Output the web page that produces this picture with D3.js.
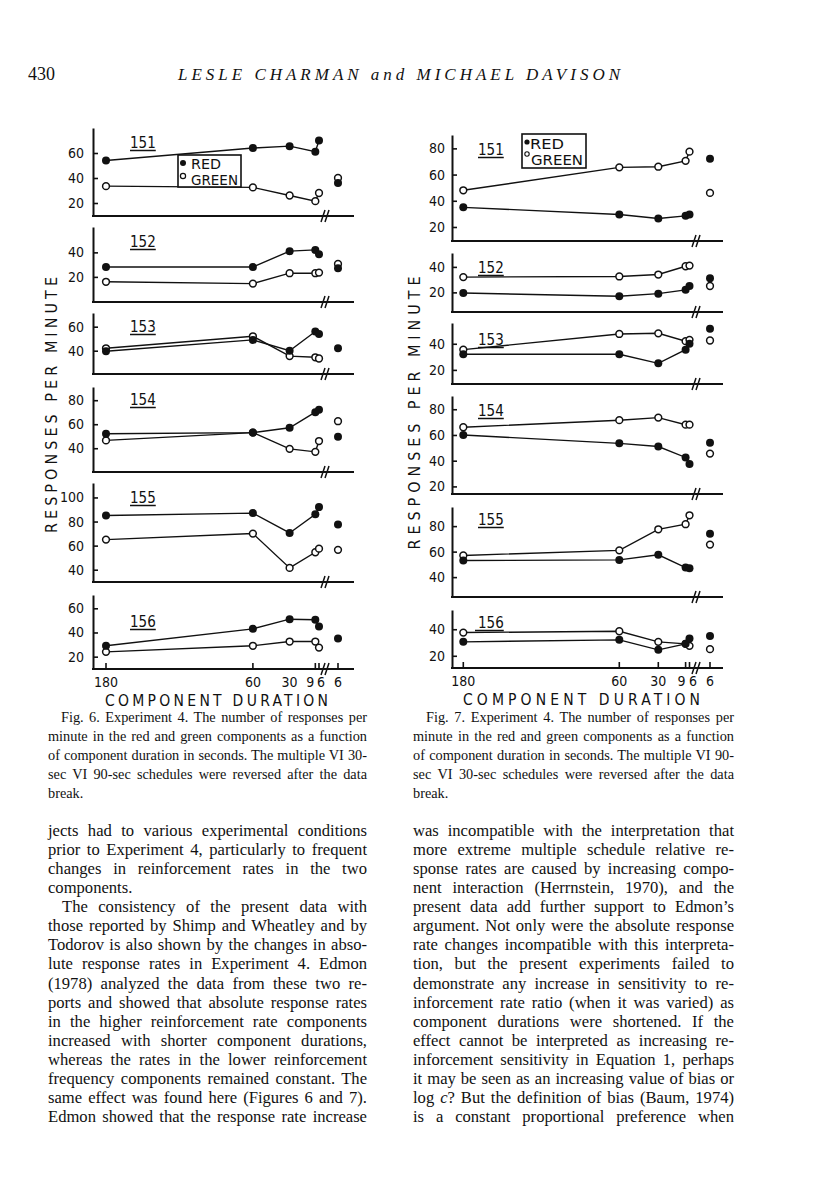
<!DOCTYPE html>
<html><head><meta charset="utf-8">
<script src="https://cdn.jsdelivr.net/npm/d3@7"></script>
<style>
html,body{margin:0;padding:0;background:#fff;}
svg{display:block;}
.chart text{font-family:"DejaVu Sans Condensed","DejaVu Sans",sans-serif;font-stretch:condensed;fill:#111;}
.serif text, text.serif{font-family:"Liberation Serif","Times New Roman",serif;fill:#111;}
</style></head><body>
<svg id="page" width="816" height="1200"></svg>
<script>
// ---------------- DATA ----------------
const durations = [180, 60, 30, 9, 6];
const subjects = ["151", "152", "153", "154", "155", "156"];
const xTickLabels = ["180", "60", "30", "9", "6", "6"];

// Figure 6 (values before the break, one row per subject; then the point after the break)
const fig6Red = [
  [54, 64, 65.5, 61, 70],
  [28, 28, 41, 42, 38.5],
  [39.5, 49, 40, 56, 54],
  [52, 53, 57, 70, 72],
  [85, 87, 70.5, 86, 92],
  [29, 43, 51, 50.5, 45]
];
const fig6RedBreak = [36, 27, 42, 49.5, 77.5, 35];
const fig6Green = [
  [33.5, 32.5, 26, 21.5, 28],
  [16, 14.5, 23, 23, 23.5],
  [42, 52, 35.5, 34.5, 33.5],
  [46.5, 53, 39.5, 37, 46],
  [65, 70, 41.5, 54.5, 57.5],
  [24, 29, 32.5, 32.5, 27.5]
];
const fig6GreenBreak = [40, 30.5, null, 62.5, 56.5, null];
const fig6Ticks = [[20, 40, 60], [20, 40], [40, 60], [40, 60, 80], [40, 60, 80, 100], [20, 40, 60]];

// Figure 7
const fig7Red = [
  [35, 29.5, 26.5, 28.5, 29.5],
  [19.5, 17, 19, 22, 25],
  [32, 32, 25, 35.5, 40],
  [60, 53.5, 51, 42.5, 37.5],
  [53, 53.5, 57.5, 47.5, 47],
  [30.5, 32, 24.5, 29, 33]
];
const fig7RedBreak = [72, 31, 51.5, 54, 74, 35];
const fig7Green = [
  [48, 65.5, 66, 70.5, 77.5],
  [32, 32.5, 34, 40.5, 41],
  [35.5, 47.5, 48, 42, 43],
  [66, 71.5, 73.5, 68, 68],
  [57, 61, 77.5, 81.5, 88.5],
  [37.5, 38.5, 30.5, 29, 27.5]
];
const fig7GreenBreak = [46, 25, 42.5, 45.5, 65.5, 25];
const fig7Ticks = [[20, 40, 60, 80], [20, 40], [20, 40], [20, 40, 60, 80], [40, 60, 80], [20, 40]];

// Text
const headerPage = "430";
const headerTitle = "LESLE CHARMAN and MICHAEL DAVISON";
const caption6 = [
  "Fig. 6. Experiment 4. The number of responses per",
  "minute in the red and green components as a function",
  "of component duration in seconds. The multiple VI 30-",
  "sec VI 90-sec schedules were reversed after the data",
  "break."
];
const caption7 = [
  "Fig. 7. Experiment 4. The number of responses per",
  "minute in the red and green components as a function",
  "of component duration in seconds. The multiple VI 90-",
  "sec VI 30-sec schedules were reversed after the data",
  "break."
];
const bodyLeft = [
  "jects had to various experimental conditions",
  "prior to Experiment 4, particularly to frequent",
  "changes in reinforcement rates in the two",
  "components.",
  "The consistency of the present data with",
  "those reported by Shimp and Wheatley and by",
  "Todorov is also shown by the changes in abso-",
  "lute response rates in Experiment 4. Edmon",
  "(1978) analyzed the data from these two re-",
  "ports and showed that absolute response rates",
  "in the higher reinforcement rate components",
  "increased with shorter component durations,",
  "whereas the rates in the lower reinforcement",
  "frequency components remained constant. The",
  "same effect was found here (Figures 6 and 7).",
  "Edmon showed that the response rate increase"
];
const bodyRight = [
  "was incompatible with the interpretation that",
  "more extreme multiple schedule relative re-",
  "sponse rates are caused by increasing compo-",
  "nent interaction (Herrnstein, 1970), and the",
  "present data add further support to Edmon\u2019s",
  "argument. Not only were the absolute response",
  "rate changes incompatible with this interpreta-",
  "tion, but the present experiments failed to",
  "demonstrate any increase in sensitivity to re-",
  "inforcement rate ratio (when it was varied) as",
  "component durations were shortened. If the",
  "effect cannot be interpreted as increasing re-",
  "inforcement sensitivity in Equation 1, perhaps",
  "it may be seen as an increasing value of bias or",
  "log *c*? But the definition of bias (Baum, 1974)",
  "is a constant proportional preference when"
];

// ---------------- LAYOUT ----------------
const layout6 = {
  axisX: 93, endX: 354, breakX: 327, xRange: [106, 319], breakPtX: 338, tickPad: 9,
  labelX: 130, labelOff: [20, 20, 19, 18, 20, 32],
  skipTick: [30], labelShift: [0, 0, 0, -5, 2, 0],
  yLabel: {x: 51, y: 405, len: 256},
  xTitle: {x1: 105, x2: 328},
  legend: {x: 178, y: 155, w: 63, h: 32, style: 6},
  panels: [
    {top: 128, bottom: 216, dom: [9.6, 80]},
    {top: 227, bottom: 302, dom: [-0.5, 60.7]},
    {top: 313, bottom: 374, dom: [20.6, 71.4]},
    {top: 387, bottom: 472, dom: [20.2, 91]},
    {top: 483, bottom: 582, dom: [29.8, 112]},
    {top: 595, bottom: 669, dom: [9.8, 71]}
  ]
};
const layout7 = {
  axisX: 452, endX: 723, breakX: 698, xRange: [463.3, 689.5], breakPtX: 710, tickPad: 7,
  labelX: 478, labelOff: [20, 20, 22, 20, 18, 18],
  skipTick: [], labelShift: [0, 0, 0, -4, 3.5, 0],
  yLabel: {x: 414, y: 413, len: 273},
  xTitle: {x1: 463, x2: 700},
  legend: {x: 522, y: 134, w: 64, h: 34, style: 7},
  panels: [
    {top: 135, bottom: 241, dom: [9.3, 90.2]},
    {top: 253, bottom: 312, dom: [4.6, 50.9]},
    {top: 323, bottom: 384, dom: [9.2, 55.9]},
    {top: 396, bottom: 494, dom: [14.1, 90.3]},
    {top: 507, bottom: 597, dom: [24.4, 95]},
    {top: 610, bottom: 668, dom: [10.8, 54.5]}
  ]
};

const ink = "#111";
const svg = d3.select("#page");

function drawFigure(L, red, redB, green, greenB, ticks) {
  const g = svg.append("g").attr("class", "chart");
  const x = d3.scaleLinear().domain([180, 6]).range(L.xRange);
  L.panels.forEach((p, i) => {
    const y = d3.scaleLinear().domain(p.dom).range([p.bottom, p.top]);
    const pg = g.append("g");
    const ax = pg.append("g").attr("transform", `translate(${L.axisX},0)`)
      .call(d3.axisLeft(y).tickValues(ticks[i]).tickSize(-5).tickSizeOuter(0).tickPadding(L.tickPad).tickFormat(d3.format("d")));
    ax.attr("font-family", null).attr("font-size", null);
    ax.select(".domain").attr("stroke", ink).attr("stroke-width", 2);
    ax.selectAll(".tick line").attr("stroke", ink).attr("stroke-width", 1.6);
    ax.selectAll(".tick text").attr("font-size", 14).attr("fill", ink);
    pg.append("line").attr("x1", L.axisX - 1).attr("x2", L.endX)
      .attr("y1", p.bottom).attr("y2", p.bottom).attr("stroke", ink).attr("stroke-width", 2);
    [-4, 0].forEach(o => {
      pg.append("line").attr("x1", L.breakX + o - 2).attr("y1", p.bottom + 6)
        .attr("x2", L.breakX + o + 2).attr("y2", p.bottom - 6)
        .attr("stroke", ink).attr("stroke-width", 1.5);
    });
    const lt = pg.append("text").attr("x", L.labelX).attr("y", p.top + L.labelOff[i])
      .attr("font-size", 15).text(subjects[i]);
    const lw = lt.node().getComputedTextLength();
    pg.append("line").attr("x1", L.labelX - (i === 5 && L.legend.style === 7 ? 3 : 0)).attr("x2", L.labelX + lw)
      .attr("y1", p.top + L.labelOff[i] + 2.5).attr("y2", p.top + L.labelOff[i] + 2.5)
      .attr("stroke", ink).attr("stroke-width", 1.5);
    const line = d3.line().x((d, j) => x(durations[j])).y(d => y(d));
    pg.append("path").datum(red[i]).attr("d", line).attr("fill", "none").attr("stroke", ink).attr("stroke-width", 1.4);
    pg.append("path").datum(green[i]).attr("d", line).attr("fill", "none").attr("stroke", ink).attr("stroke-width", 1.4);
    const open = (cx, cy) => pg.append("circle").attr("cx", cx).attr("cy", cy).attr("r", 3.4)
      .attr("fill", "#fff").attr("stroke", ink).attr("stroke-width", 1.5);
    const filled = (cx, cy) => pg.append("circle").attr("cx", cx).attr("cy", cy).attr("r", 4).attr("fill", ink);
    green[i].forEach((v, j) => open(x(durations[j]), y(v)));
    red[i].forEach((v, j) => filled(x(durations[j]), y(v)));
    if (greenB[i] != null) open(L.breakPtX, y(greenB[i]));
    if (redB[i] != null) filled(L.breakPtX, y(redB[i]));
    if (i === L.panels.length - 1) {
      const tickXs = durations.filter(d => !L.skipTick.includes(d)).map(d => x(d)).concat([L.breakPtX]);
      tickXs.forEach(tx => pg.append("line").attr("x1", tx).attr("x2", tx)
        .attr("y1", p.bottom).attr("y2", p.bottom - 6).attr("stroke", ink).attr("stroke-width", 1.6));
      const labX = durations.map(d => x(d)).concat([L.breakPtX]);
      xTickLabels.forEach((t, j) => {
        pg.append("text").attr("x", labX[j] + L.labelShift[j]).attr("y", p.bottom + 18)
          .attr("text-anchor", "middle").attr("font-size", 14).text(t);
      });
      pg.append("text").attr("x", L.xTitle.x1).attr("y", p.bottom + 37)
        .attr("font-size", 15.5).attr("textLength", L.xTitle.x2 - L.xTitle.x1)
        .attr("lengthAdjust", "spacing").text("COMPONENT   DURATION");
    }
  });
  g.append("text").attr("transform", `translate(${L.yLabel.x + 6},${L.yLabel.y}) rotate(-90)`)
    .attr("text-anchor", "middle").attr("font-size", 16)
    .attr("textLength", L.yLabel.len).attr("lengthAdjust", "spacing")
    .text("RESPONSES  PER  MINUTE");
  const lg = L.legend;
  const leg = g.append("g");
  leg.append("rect").attr("x", lg.x).attr("y", lg.y).attr("width", lg.w).attr("height", lg.h)
    .attr("fill", "#fff").attr("stroke", ink).attr("stroke-width", 1.6);
  if (lg.style === 6) {
    leg.append("circle").attr("cx", lg.x + 5).attr("cy", lg.y + 8).attr("r", 3).attr("fill", ink);
    leg.append("circle").attr("cx", lg.x + 5).attr("cy", lg.y + 21).attr("r", 2.6).attr("fill", "#fff").attr("stroke", ink).attr("stroke-width", 1.2);
    leg.append("text").attr("x", lg.x + 13).attr("y", lg.y + 14).attr("font-size", 14).attr("textLength", 30)
      .attr("lengthAdjust", "spacingAndGlyphs").text("RED");
    leg.append("text").attr("x", lg.x + 13).attr("y", lg.y + 30).attr("font-size", 14)
      .attr("textLength", 47).attr("lengthAdjust", "spacingAndGlyphs").text("GREEN");
  } else {
    leg.append("circle").attr("cx", lg.x + 5).attr("cy", lg.y + 8).attr("r", 2.6).attr("fill", ink);
    leg.append("circle").attr("cx", lg.x + 5).attr("cy", lg.y + 20).attr("r", 2.2).attr("fill", "#fff").attr("stroke", ink).attr("stroke-width", 1.1);
    leg.append("text").attr("x", lg.x + 8).attr("y", lg.y + 15).attr("font-size", 14).attr("textLength", 34)
      .attr("lengthAdjust", "spacingAndGlyphs").text("RED");
    leg.append("text").attr("x", lg.x + 9).attr("y", lg.y + 31).attr("font-size", 14)
      .attr("textLength", 52).attr("lengthAdjust", "spacingAndGlyphs").text("GREEN");
  }
}

drawFigure(layout6, fig6Red, fig6RedBreak, fig6Green, fig6GreenBreak, fig6Ticks);
drawFigure(layout7, fig7Red, fig7RedBreak, fig7Green, fig7GreenBreak, fig7Ticks);

// ---------------- TEXT ----------------
const tg = svg.append("g").attr("class", "serif");
function justified(str, x, y, width, size, justify) {
  const t = tg.append("text").attr("x", x).attr("y", y).attr("font-size", size);
  str.split(/(\*[^*]+\*)/).forEach(part => {
    if (!part) return;
    if (part.startsWith("*")) t.append("tspan").attr("font-style", "italic").text(part.slice(1, -1));
    else t.append("tspan").text(part);
  });
  const plain = str.replace(/\*/g, "");
  const w = t.node().getComputedTextLength();
  if (w > width) {
    t.attr("textLength", width).attr("lengthAdjust", "spacingAndGlyphs");
  } else if (justify) {
    const spaces = (plain.match(/ /g) || []).length;
    if (spaces > 0) t.attr("word-spacing", (width - w) / spaces);
  }
  return t;
}
tg.append("text").attr("x", 28).attr("y", 80).attr("font-size", 18).text(headerPage);
tg.append("text").attr("x", 178).attr("y", 80).attr("font-size", 17).attr("font-style", "italic")
  .attr("textLength", 442).attr("lengthAdjust", "spacing").text(headerTitle);

function caption(lines, x0, x1, indent, y0) {
  lines.forEach((s, i) => {
    const last = i === lines.length - 1;
    const xs = i === 0 ? x0 + indent : x0;
    justified(s, xs, y0 + i * 19, x1 - xs, 14.3, !last);
  });
}
caption(caption6, 48, 367, 13, 722);
caption(caption7, 413, 734, 13, 722);

function body(lines, x0, x1, y0, indents, noJust) {
  lines.forEach((s, i) => {
    const xs = x0 + (indents.includes(i) ? 14 : 0);
    justified(s, xs, y0 + i * 19.07, x1 - xs, 16.6, !noJust.includes(i));
  });
}
body(bodyLeft, 48, 367, 836, [4], [3]);
body(bodyRight, 413, 734, 836, [], []);
</script>
</body></html>
